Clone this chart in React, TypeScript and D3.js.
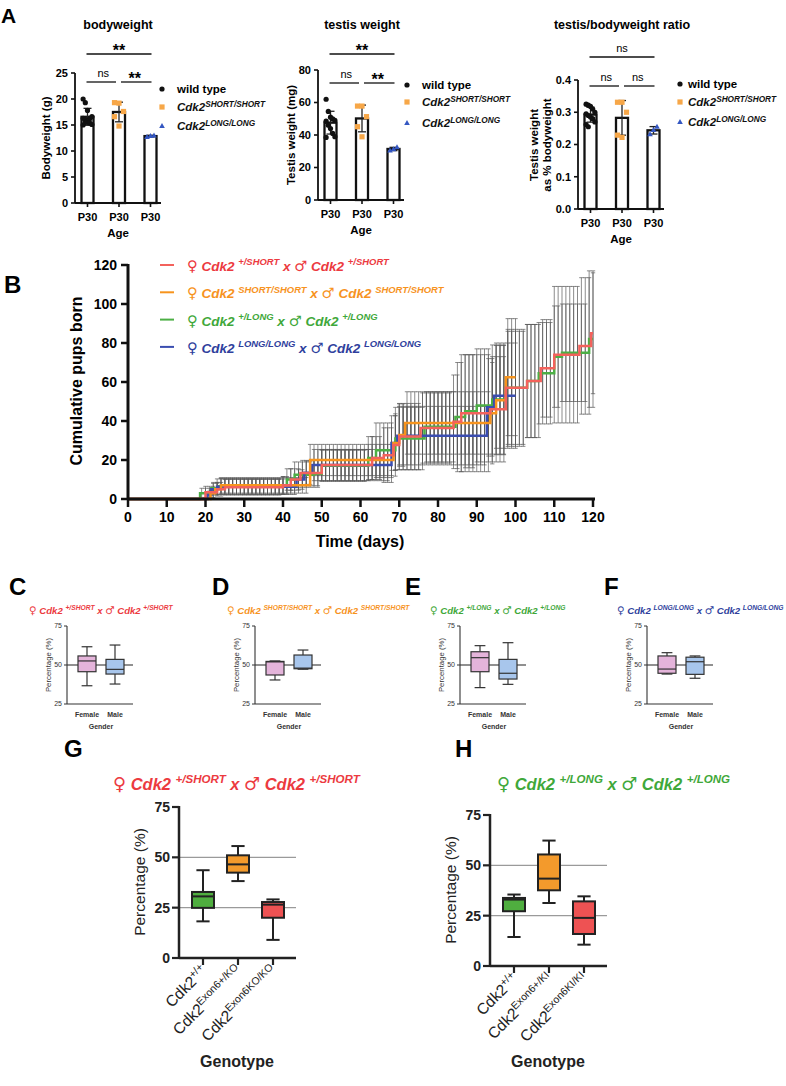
import React from 'react';
import * as d3 from 'd3';

const FONT = '"Liberation Sans", Arial, Helvetica, sans-serif';
const SYMBOL_FONT = '"DejaVu Sans", sans-serif';

const RED = '#ec3a3f';
const ORANGE = '#f7931e';
const GREEN = '#3fa83a';
const BLUE = '#2f3f9d';

// ── A: weights at P30 ───────────────────────────────────────────────
const genotypes = ['wt', 'short', 'long'];
const bodyWT = [20.0, 19.3, 17.8, 16.2, 16.6, 16.3, 16.0, 15.7, 15.4, 15.1, 15.0, 15.5];
const bodyShort = [19.3, 19.2, 17.6, 16.6, 14.8];
const bodyLong = [12.7, 12.9, 13.0];
const testisWT = [62, 54.5, 51, 50, 49, 48.5, 46, 44, 41, 39, 38.5];
const testisShort = [57.8, 57.8, 51.3, 45.1, 38.9];
const testisLong = [30.5, 31.2, 32.5];
const ratioWT = [0.325, 0.322, 0.318, 0.31, 0.3, 0.295, 0.29, 0.285, 0.28, 0.27, 0.262, 0.255];
const ratioShort = [0.331, 0.331, 0.3, 0.229, 0.222];
const ratioLong = [0.232, 0.245, 0.255];

// ── B: cumulative pups born, steps as [day, mean, sd] ───────────────
type Step = [number, number, number];
const hetShortSteps: Step[] = [
  [0, 0, 0], [20, 3.5, 3], [23, 5, 3.5], [25, 6, 4], [40, 7, 4.5], [42, 10, 5.5], [44.5, 13.3, 6.5],
  [50, 17.4, 8], [63, 21, 11], [66, 22.5, 14], [68.5, 27.7, 16], [70, 32, 17], [75.5, 36.4, 18],
  [84, 39.6, 24], [86, 44, 30], [93.5, 46, 27], [97.5, 57, 29], [103, 60.5, 29], [106.5, 67, 25],
  [110, 74, 35], [116.5, 78.5, 35], [119.5, 85, 31],
];
const homShortSteps: Step[] = [
  [0, 0, 0], [21.3, 3, 2.5], [22.5, 5, 3], [24, 7, 4], [47, 20, 8], [68.5, 28.7, 14], [70, 32.8, 16],
  [71.5, 39, 16], [93.5, 44, 26], [95, 50.7, 28], [97.5, 62.5, 30],
];
const hetLongSteps: Step[] = [
  [0, 0, 0], [18.6, 3, 2.5], [21.5, 5.5, 3], [23.5, 6.5, 4], [40, 7, 4.5], [41, 10, 5.5], [43, 12.5, 6.5],
  [48, 13, 7], [50, 17, 8], [62, 21, 11], [64, 25, 14], [69, 31, 16], [76.5, 37, 18], [84.5, 42, 28],
  [87, 45, 29], [90, 48, 29], [94, 51, 28], [97.5, 57, 30], [103, 60.5, 29], [106, 64.5, 26],
  [110, 73, 26], [112, 75, 25], [119, 82, 35],
];
const homLongSteps: Step[] = [
  [0, 0, 0], [20.5, 2, 2], [21.5, 5, 3], [23, 6.3, 4], [43.5, 10, 5], [45.5, 13.5, 6], [47.5, 17.4, 8],
  [68, 28.7, 14], [69.5, 32.5, 15], [92.6, 47, 25], [94.5, 53, 27],
];
const dayTicks = d3.range(0, 121, 10);
const pupTicks = d3.range(0, 121, 20);

// ── C–F: sex ratio, [min, q1, median, q3, max] ──────────────────────
const genders = ['Female', 'Male'];
const cFemale = [36.7, 45.7, 52.6, 55.8, 61.7];
const cMale = [37.8, 44.2, 47.2, 53.6, 62.8];
const dFemale = [40.4, 43.6, 52.0, 52.3, 52.6];
const dMale = [47.3, 47.6, 48.0, 56.4, 59.6];
const eFemale = [35.5, 45.7, 54.7, 58.5, 62.4];
const eMale = [37.6, 41.0, 44.7, 53.6, 64.3];
const fFemale = [44.2, 44.7, 47.4, 55.8, 57.9];
const fMale = [41.5, 44.0, 52.1, 55.0, 55.8];

// ── G/H: genotype ratio, [min, q1, median, q3, max] ─────────────────
const gWild = [18.2, 24.9, 30.6, 32.8, 43.6];
const gHet = [38.2, 42.4, 46.5, 51.0, 55.6];
const gHom = [9.0, 20.0, 26.5, 27.8, 29.1];
const hWild = [14.4, 27.2, 33.0, 33.8, 35.5];
const hHet = [31.3, 37.6, 43.4, 55.4, 62.3];
const hHom = [10.6, 15.9, 23.9, 32.1, 34.6];

/* ── shared bits ──────────────────────────────────────────────────── */
function CrossTitle({ x, y, size, color, sup }: any) {
  const s = size * 0.7;
  const up = size * 0.42;
  const sym = (ch: string) => (
    <tspan fontFamily={SYMBOL_FONT} fontStyle="normal" fontWeight="bold" fontSize={size * 1.08}>{ch}</tspan>
  );
  return (
    <text x={x} y={y} fontSize={size} fontWeight="bold" fontStyle="italic" fill={color}>
      {sym('\u2640')}
      <tspan>{' Cdk2 '}</tspan>
      <tspan fontSize={s} dy={-up}>{sup}</tspan>
      <tspan dy={up}>{' x '}</tspan>
      {sym('\u2642')}
      <tspan>{' Cdk2 '}</tspan>
      <tspan fontSize={s} dy={-up}>{sup}</tspan>
    </text>
  );
}

function Cdk({ x, y, size, sup }: any) {
  return (
    <text x={x} y={y} fontSize={size} fontWeight="bold" fontStyle="italic" fill="#111">
      <tspan>Cdk2</tspan>
      <tspan fontSize={size * 0.72} dy={-size * 0.38}>{sup}</tspan>
    </text>
  );
}

function Marker({ kind, x, y }: any) {
  if (kind === 'wt') return <circle cx={x} cy={y} r={2.6} fill="#111" />;
  if (kind === 'short') return <rect x={x - 2.6} y={y - 2.6} width={5.2} height={5.2} fill="#f7a748" />;
  return <path d={`M${x},${y - 3} L${x + 2.8},${y + 2} L${x - 2.8},${y + 2} Z`} fill="#3457c2" />;
}

/* ── A ─────────────────────────────────────────────────────────────── */
function WeightChart(p: any) {
  const y = d3.scaleLinear().domain([0, p.max]).range([p.y0, p.yTop]);
  const x = d3.scalePoint<string>().domain(genotypes).range([p.axisX + 12.5, p.axisX + 75.5]);
  const right = p.axisX + 86;
  const jitter = [
    (i: number) => ((i % 5) - 2) * 2.2,
    (i: number) => ((i % 3) - 1) * 4.5,
    (i: number) => ((i % 3) - 1) * 3.5,
  ];
  const [cA, cB, cC] = genotypes.map((g) => x(g) as number);
  const sigText = (s: string, cx: number, ly: number, key?: number) => (
    <text key={key} x={cx} y={s === '**' ? ly + 2 : ly - 5} textAnchor="middle"
      fontSize={s === '**' ? 16 : 11} fontWeight={s === '**' ? 'bold' : 'normal'}>{s}</text>
  );
  return (
    <g>
      <text x={p.titleX} y={29} textAnchor="middle" fontSize={12.5} fontWeight="bold">{p.title}</text>
      {/* significance brackets */}
      <line x1={cA - 1} x2={cC + 1} y1={p.topLineY} y2={p.topLineY} stroke="#111" strokeWidth={1.3} />
      {sigText(p.sigTop, (cA + cC) / 2, p.topLineY)}
      <line x1={cA - 1} x2={cB - 3} y1={p.lowLineY} y2={p.lowLineY} stroke="#111" strokeWidth={1.3} />
      <line x1={cB + 2} x2={cC + 1} y1={p.lowLineY} y2={p.lowLineY} stroke="#111" strokeWidth={1.3} />
      {p.sigLow.map((s: string, i: number) => sigText(s, i === 0 ? (cA + cB) / 2 : (cB + cC) / 2, p.lowLineY, i))}
      {/* bars with mean ± SD and individual animals */}
      {p.values.map((vals: number[], gi: number) => {
        const cx = x(genotypes[gi]) as number;
        const m = d3.mean(vals) as number;
        const sd = d3.deviation(vals) as number;
        return (
          <g key={gi}>
            <rect x={cx - 6} y={y(m)} width={12} height={p.y0 - y(m)} fill="#fff" stroke="#111" strokeWidth={2.3} />
            <line x1={cx} x2={cx} y1={y(m - sd)} y2={y(m + sd)} stroke="#222" strokeWidth={1.3} />
            <line x1={cx - 4} x2={cx + 4} y1={y(m + sd)} y2={y(m + sd)} stroke="#222" strokeWidth={1.3} />
            <line x1={cx - 4} x2={cx + 4} y1={y(m - sd)} y2={y(m - sd)} stroke="#222" strokeWidth={1.3} />
            {vals.map((v, i) => (
              <Marker key={i} kind={genotypes[gi]} x={cx + jitter[gi](i)} y={y(v)} />
            ))}
          </g>
        );
      })}
      {/* axes */}
      <line x1={p.axisX} x2={p.axisX} y1={p.y0} y2={p.yTop} stroke="#111" strokeWidth={1.8} />
      <line x1={p.axisX} x2={right} y1={p.y0} y2={p.y0} stroke="#111" strokeWidth={1.8} />
      {p.ticks.map((t: number) => (
        <g key={t}>
          <line x1={p.axisX - 4} x2={p.axisX} y1={y(t)} y2={y(t)} stroke="#111" strokeWidth={1.6} />
          <text x={p.axisX - 7} y={y(t)} dy="0.35em" textAnchor="end" fontSize={11} fontWeight="bold">{p.fmt(t)}</text>
        </g>
      ))}
      {genotypes.map((g) => (
        <g key={g}>
          <line x1={x(g)} x2={x(g)} y1={p.y0} y2={p.y0 + 4} stroke="#111" strokeWidth={1.6} />
          <text x={x(g)} y={p.y0 + 18} textAnchor="middle" fontSize={11} fontWeight="bold">P30</text>
        </g>
      ))}
      <text x={(p.axisX + right) / 2} y={p.y0 + 34} textAnchor="middle" fontSize={11.5} fontWeight="bold">Age</text>
      {p.yLabel.map((l: string, i: number) => (
        <text key={i} transform={`translate(${p.labelX[i]},${p.labelY}) rotate(-90)`} textAnchor="middle"
          fontSize={11.5} fontWeight="bold">{l}</text>
      ))}
      {/* legend */}
      <Marker kind="wt" x={p.legX} y={p.legY[0]} />
      <text x={p.legTextX} y={p.legY[0] + 4} fontSize={11.5} fontWeight="bold">wild type</text>
      <Marker kind="short" x={p.legX} y={p.legY[1]} />
      <Cdk x={p.legTextX} y={p.legY[1] + 4} size={11.5} sup="SHORT/SHORT" />
      <Marker kind="long" x={p.legX} y={p.legY[2]} />
      <Cdk x={p.legTextX} y={p.legY[2] + 4} size={11.5} sup="LONG/LONG" />
    </g>
  );
}

/* ── B ─────────────────────────────────────────────────────────────── */
const crossSeries = [
  { steps: hetLongSteps, end: 120, color: '#4caf45' },
  { steps: homLongSteps, end: 100, color: '#3a4db0' },
  { steps: homShortSteps, end: 100, color: '#f7941d' },
  { steps: hetShortSteps, end: 120, color: '#f3625c' },
];
const crossLegend = [
  { sup: '+/SHORT', color: RED, line: '#f3625c' },
  { sup: 'SHORT/SHORT', color: ORANGE, line: '#f7941d' },
  { sup: '+/LONG', color: GREEN, line: '#4caf45' },
  { sup: 'LONG/LONG', color: BLUE, line: '#3a4db0' },
];

function stepAt(steps: Step[], d: number): Step {
  let cur = steps[0];
  for (const s of steps) if (s[0] <= d) cur = s;
  return cur;
}

function CumulativeChart() {
  const x = d3.scaleLinear().domain([0, 120]).range([128, 593]);
  const y = d3.scaleLinear().domain([0, 120]).range([499, 265]);
  const line = d3.line<[number, number]>().x((d) => x(d[0])).y((d) => y(d[1])).curve(d3.curveStepAfter);
  return (
    <g>
      <text x={4} y={293} fontSize={24} fontWeight="bold">B</text>
      {crossSeries.map((s, si) => (
        <g key={si} stroke="#555" strokeWidth={0.8} strokeOpacity={0.85}>
          {d3.range(1, s.end + 1).map((d) => {
            const [, m, sd] = stepAt(s.steps, d);
            if (sd <= 0) return null;
            const cx = x(d);
            return (
              <g key={d}>
                <line x1={cx} x2={cx} y1={y(m - sd)} y2={y(m + sd)} />
                <line x1={cx - 2.2} x2={cx + 2.2} y1={y(m + sd)} y2={y(m + sd)} />
                <line x1={cx - 2.2} x2={cx + 2.2} y1={y(m - sd)} y2={y(m - sd)} />
              </g>
            );
          })}
        </g>
      ))}
      {crossSeries.map((s, si) => {
        const pts: [number, number][] = s.steps.map((st) => [st[0], st[1]]);
        pts.push([s.end, s.steps[s.steps.length - 1][1]]);
        return <path key={si} d={line(pts) as string} fill="none" stroke={s.color} strokeWidth={2.5} />;
      })}
      <line x1={128} x2={128} y1={499} y2={264} stroke="#111" strokeWidth={3} />
      <line x1={127} x2={595} y1={499} y2={499} stroke="#111" strokeWidth={3} />
      {pupTicks.map((t) => (
        <g key={t}>
          <line x1={121} x2={128} y1={y(t)} y2={y(t)} stroke="#111" strokeWidth={2.5} />
          <text x={117} y={y(t)} dy="0.36em" textAnchor="end" fontSize={14} fontWeight="bold">{t}</text>
        </g>
      ))}
      {dayTicks.map((t) => (
        <g key={t}>
          <line x1={x(t)} x2={x(t)} y1={499} y2={507} stroke="#111" strokeWidth={2.5} />
          <text x={x(t)} y={522} textAnchor="middle" fontSize={14} fontWeight="bold">{t}</text>
        </g>
      ))}
      <text x={360} y={547} textAnchor="middle" fontSize={16} fontWeight="bold">Time (days)</text>
      <text transform="translate(82,381) rotate(-90)" textAnchor="middle" fontSize={16} fontWeight="bold">Cumulative pups born</text>
      {crossLegend.map((l, i) => {
        const ry = 265 + i * 27.3;
        return (
          <g key={i}>
            <line x1={160} x2={174} y1={ry} y2={ry} stroke={l.line} strokeWidth={2} />
            <CrossTitle x={187} y={ry + 6} size={13.5} color={l.color} sup={l.sup} />
          </g>
        );
      })}
    </g>
  );
}

/* ── box helpers ───────────────────────────────────────────────────── */
function BoxMark({ cx, w, y, stats, fill, stroke, sw }: any) {
  const [mn, q1, md, q3, mx] = stats;
  return (
    <g stroke={stroke} strokeWidth={sw}>
      <line x1={cx} x2={cx} y1={y(mx)} y2={y(q3)} />
      <line x1={cx} x2={cx} y1={y(q1)} y2={y(mn)} />
      <line x1={cx - w * 0.3} x2={cx + w * 0.3} y1={y(mx)} y2={y(mx)} />
      <line x1={cx - w * 0.3} x2={cx + w * 0.3} y1={y(mn)} y2={y(mn)} />
      <rect x={cx - w / 2} y={y(q3)} width={w} height={y(q1) - y(q3)} fill={fill} />
      <line x1={cx - w / 2} x2={cx + w / 2} y1={y(md)} y2={y(md)} />
    </g>
  );
}

/* ── C–F ───────────────────────────────────────────────────────────── */
function GenderChart({ letter, letterX, axisX, titleX, color, sup, female, male }: any) {
  const y = d3.scaleLinear().domain([25, 75]).range([704, 626]);
  const x = d3.scalePoint<string>().domain(genders).range([axisX + 20, axisX + 48]);
  const right = axisX + 66;
  return (
    <g>
      <text x={letterX} y={595} fontSize={24} fontWeight="bold">{letter}</text>
      <CrossTitle x={titleX} y={614} size={9.6} color={color} sup={sup} />
      <line x1={axisX} x2={right} y1={y(50)} y2={y(50)} stroke="#222" strokeWidth={1.1} />
      {[female, male].map((st, i) => (
        <BoxMark key={i} cx={x(genders[i])} w={18} y={y} stats={st} fill={i === 0 ? '#e4b4da' : '#a8c6ec'} stroke="#333" sw={1.2} />
      ))}
      <line x1={axisX} x2={axisX} y1={704} y2={626} stroke="#333" strokeWidth={1.1} />
      <line x1={axisX} x2={right} y1={704} y2={704} stroke="#333" strokeWidth={1.1} />
      {[25, 50, 75].map((t) => (
        <g key={t}>
          <line x1={axisX - 3} x2={axisX} y1={y(t)} y2={y(t)} stroke="#333" strokeWidth={1} />
          <text x={axisX - 5} y={y(t)} dy="0.35em" textAnchor="end" fontSize={7} fill="#333">{t}</text>
        </g>
      ))}
      {genders.map((g) => (
        <text key={g} x={x(g)} y={717} textAnchor="middle" fontSize={7} fontWeight="bold" fill="#333">{g}</text>
      ))}
      <text x={axisX + 34} y={729} textAnchor="middle" fontSize={7} fontWeight="bold" fill="#333">Gender</text>
      <text transform={`translate(${axisX - 16},665) rotate(-90)`} textAnchor="middle" fontSize={7.8} fill="#333">Percentage (%)</text>
    </g>
  );
}

/* ── G/H ───────────────────────────────────────────────────────────── */
function GenotypeChart({ letter, letterX, titleX, color, sup, axisX, y0, stats, labels }: any) {
  const y = d3.scaleLinear().domain([0, 75]).range([y0, y0 - 151]);
  const keys = ['wild', 'het', 'hom'];
  const x = d3.scalePoint<string>().domain(keys).range([axisX + 24, axisX + 94]);
  const right = axisX + 117;
  const fills = ['#4fae3f', '#f39a2c', '#ee5253'];
  return (
    <g>
      <text x={letterX} y={757} fontSize={24} fontWeight="bold">{letter}</text>
      <CrossTitle x={titleX} y={790} size={16.5} color={color} sup={sup} />
      {[25, 50].map((t) => (
        <line key={t} x1={axisX} x2={right} y1={y(t)} y2={y(t)} stroke="#9a9a9a" strokeWidth={1.3} />
      ))}
      {stats.map((st: number[], i: number) => (
        <BoxMark key={i} cx={x(keys[i])} w={22} y={y} stats={st} fill={fills[i]} stroke="#222" sw={2} />
      ))}
      <line x1={axisX} x2={axisX} y1={y0} y2={y(75) - 1} stroke="#222" strokeWidth={2.5} />
      <line x1={axisX} x2={right} y1={y0} y2={y0} stroke="#222" strokeWidth={2.5} />
      {[0, 25, 50, 75].map((t) => (
        <g key={t}>
          <line x1={axisX - 7} x2={axisX} y1={y(t)} y2={y(t)} stroke="#222" strokeWidth={2.2} />
          <text x={axisX - 9} y={y(t)} dy="0.36em" textAnchor="end" fontSize={14} fontWeight="bold" fill="#222">{t}</text>
        </g>
      ))}
      {keys.map((k, i) => {
        const cx = x(k) as number;
        return (
          <g key={k}>
            <line x1={cx} x2={cx} y1={y0} y2={y0 + 7} stroke="#222" strokeWidth={2.2} />
            <g transform={`translate(${cx + 5},${y0 + 14}) rotate(-45)`}>
              <text textAnchor="end" fontSize={15.5} fill="#222">
                <tspan>Cdk2</tspan>
                <tspan fontSize={10.5} dy={-6}>{labels[i]}</tspan>
              </text>
            </g>
          </g>
        );
      })}
      <text x={axisX + 58} y={1067} textAnchor="middle" fontSize={16} fontWeight="bold" fill="#222">Genotype</text>
      <text transform={`translate(${axisX - 34},${y0 - 76}) rotate(-90)`} textAnchor="middle" fontSize={15.5} fill="#222">Percentage (%)</text>
    </g>
  );
}

export default function App() {
  const f1 = (v: number) => d3.format('.1f')(v);
  return (
    <svg width={786} height={1086} viewBox="0 0 786 1086" fontFamily={FONT}
      style={{ position: 'absolute', left: 0, top: 0, background: '#fff' }}>
      <rect width={786} height={1086} fill="#fff" />
      <text x={1} y={23} fontSize={21} fontWeight="bold">A</text>
      <WeightChart axisX={75} y0={203} yTop={73} max={25} ticks={[0, 5, 10, 15, 20, 25]} fmt={String}
        values={[bodyWT, bodyShort, bodyLong]} title="bodyweight" titleX={118}
        yLabel={['Bodyweight  (g)']} labelX={[50]} labelY={138}
        sigTop="**" sigLow={['ns', '**']} topLineY={54} lowLineY={82}
        legX={162} legTextX={177} legY={[89, 107, 126]} />
      <WeightChart axisX={318} y0={200} yTop={70} max={80} ticks={[0, 20, 40, 60, 80]} fmt={String}
        values={[testisWT, testisShort, testisLong]} title="testis weight" titleX={362}
        yLabel={['Testis weight (mg)']} labelX={[295]} labelY={135}
        sigTop="**" sigLow={['ns', '**']} topLineY={54} lowLineY={83}
        legX={407} legTextX={422} legY={[85, 102, 123]} />
      <WeightChart axisX={578} y0={209} yTop={80} max={0.4} ticks={[0, 0.1, 0.2, 0.3, 0.4]} fmt={f1}
        values={[ratioWT, ratioShort, ratioLong]} title="testis/bodyweight ratio" titleX={622}
        yLabel={['Testis weight', 'as % bodyweight']} labelX={[538, 551]} labelY={145}
        sigTop="ns" sigLow={['ns', 'ns']} topLineY={57} lowLineY={86}
        legX={680} legTextX={688} legY={[84, 102, 122]} />
      <CumulativeChart />
      <GenderChart letter="C" letterX={9} axisX={67} titleX={29} color={RED} sup="+/SHORT" female={cFemale} male={cMale} />
      <GenderChart letter="D" letterX={212} axisX={255} titleX={227} color={ORANGE} sup="SHORT/SHORT" female={dFemale} male={dMale} />
      <GenderChart letter="E" letterX={405} axisX={460} titleX={430} color={GREEN} sup="+/LONG" female={eFemale} male={eMale} />
      <GenderChart letter="F" letterX={604} axisX={647} titleX={617} color={BLUE} sup="LONG/LONG" female={fFemale} male={fMale} />
      <GenotypeChart letter="G" letterX={64} titleX={113} color={RED} sup="+/SHORT" axisX={179} y0={958}
        stats={[gWild, gHet, gHom]} labels={['+/+', 'Exon6+/KO', 'Exon6KO/KO']} />
      <GenotypeChart letter="H" letterX={455} titleX={497} color={GREEN} sup="+/LONG" axisX={490} y0={966}
        stats={[hWild, hHet, hHom]} labels={['+/+', 'Exon6+/KI', 'Exon6KI/KI']} />
    </svg>
  );
}
